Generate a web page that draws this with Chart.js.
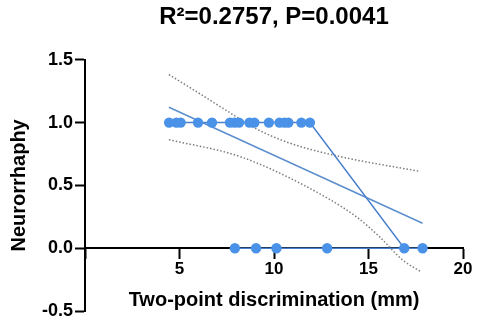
<!DOCTYPE html>
<html>
<head>
<meta charset="utf-8">
<script src="https://cdn.jsdelivr.net/npm/chart.js@4/dist/chart.umd.min.js"></script>
<style>
  html, body { margin: 0; padding: 0; background: #fff; }
  #wrap { width: 484px; height: 326px; }
</style>
</head>
<body>
<div id="wrap"><canvas id="c" width="484" height="326"></canvas></div>
<script>
// ---- data ----
const chartTitle = 'R\u00B2=0.2757, P=0.0041';
const xTitle = 'Two-point discrimination (mm)';
const yTitle = 'Neurorrhaphy';
const xTickValues = [5, 10, 15, 20];
const yTickLabels = ['-0.5', '0.0', '0.5', '1.0', '1.5'];

// Two-point discrimination of cases with neurorrhaphy = 1
const yesX = [4.45, 4.84, 5.06, 5.98, 6.72, 7.67, 7.91, 8.15, 8.70, 8.96, 9.73, 10.29, 10.55, 10.76, 11.45, 11.90];
const yesY = [1, 1, 1, 1, 1, 1, 1, 1, 1, 1, 1, 1, 1, 1, 1, 1];
// cases with neurorrhaphy = 0 (in the order they are connected)
const noX = [16.89, 17.86, 12.81, 10.13, 9.05, 7.93];
const noY = [0, 0, 0, 0, 0, 0];

// linear fit
const fitX = [4.44, 17.86];
const fitY = [1.122, 0.199];

// 95% confidence band
const upperX = [4.44, 6.41, 7.82, 8.87, 10.81, 13.45, 17.73];
const upperY = [1.383, 1.198, 1.064, 0.965, 0.838, 0.731, 0.611];
const lowerX = [4.44, 8.17, 11.70, 14.34, 15.57, 16.80, 17.77];
const lowerY = [0.864, 0.731, 0.492, 0.252, 0.093, -0.093, -0.187];

// ---- build ----
const pts = (xs, ys) => xs.map((x, i) => ({ x: x, y: ys[i] }));

Chart.defaults.font.family = "'Liberation Sans', Arial, Helvetica, sans-serif";
Chart.defaults.color = '#000';

new Chart(document.getElementById('c'), {
  type: 'scatter',
  data: {
    datasets: [
      {
        label: 'Cases',
        data: pts(yesX, yesY).concat(pts(noX, noY)),
        showLine: true,
        borderColor: 'rgb(72,128,205)',
        borderWidth: 1.5,
        backgroundColor: 'rgb(74,146,232)',
        pointBackgroundColor: 'rgb(74,146,232)',
        pointBorderColor: 'rgb(74,146,232)',
        pointBorderWidth: 0,
        pointRadius: 5.2,
        order: 0
      },
      {
        label: 'Fit',
        data: pts(fitX, fitY),
        showLine: true,
        borderColor: 'rgb(92,142,206)',
        borderWidth: 1.5,
        pointRadius: 0,
        order: 1
      },
      {
        label: 'Upper 95% CI',
        data: pts(upperX, upperY),
        showLine: true,
        borderColor: 'rgb(125,125,125)',
        borderWidth: 1.5,
        borderDash: [1.5, 2],
        cubicInterpolationMode: 'monotone',
        pointRadius: 0,
        order: 2
      },
      {
        label: 'Lower 95% CI',
        data: pts(lowerX, lowerY),
        showLine: true,
        borderColor: 'rgb(125,125,125)',
        borderWidth: 1.5,
        borderDash: [1.5, 2],
        cubicInterpolationMode: 'monotone',
        pointRadius: 0,
        order: 3
      }
    ]
  },
  options: {
    responsive: false,
    animation: false,
    devicePixelRatio: 1,
    layout: { padding: { left: 0, right: 21, top: 0, bottom: 15 } },
    plugins: {
      legend: { display: false },
      tooltip: { enabled: false },
      title: {
        display: true,
        text: chartTitle,
        fullSize: false,
        color: '#000',
        font: { size: 24, weight: 'bold' },
        padding: { top: 3, bottom: 28 }
      }
    },
    scales: {
      x: {
        type: 'linear',
        min: 0,
        max: 20,
        position: { y: 0 },
        afterBuildTicks: s => { s.ticks = [0].concat(xTickValues).map(v => ({ value: v })); },
        ticks: {
          color: '#000',
          font: { size: 17, weight: 'bold' },
          padding: 1,
          maxRotation: 0,
          callback: v => (xTickValues.includes(v) ? String(v) : '')
        },
        grid: { drawOnChartArea: false, drawTicks: true, tickLength: 10, tickWidth: 2, tickColor: '#000' },
        border: { color: '#000', width: 2 },
        title: {
          display: true,
          text: xTitle,
          color: '#000',
          font: { size: 20, weight: 'bold' },
          padding: { top: 8, bottom: 0 }
        }
      },
      y: {
        type: 'linear',
        min: -0.5,
        max: 1.5,
        position: 'left',
        afterBuildTicks: s => { s.ticks = yTickLabels.map(t => ({ value: parseFloat(t) })); },
        afterFit: s => { s.width = 85; },
        ticks: {
          color: '#000',
          font: { size: 18, weight: 'bold' },
          padding: 2,
          callback: (v, i) => yTickLabels[i]
        },
        grid: { drawOnChartArea: false, drawTicks: true, tickLength: 10, tickWidth: 2, tickColor: '#000' },
        border: { color: '#000', width: 2 },
        title: {
          display: true,
          text: yTitle,
          color: '#000',
          font: { size: 20, weight: 'bold' },
          padding: { top: 7, bottom: 0 }
        }
      }
    }
  }
});
</script>
</body>
</html>
